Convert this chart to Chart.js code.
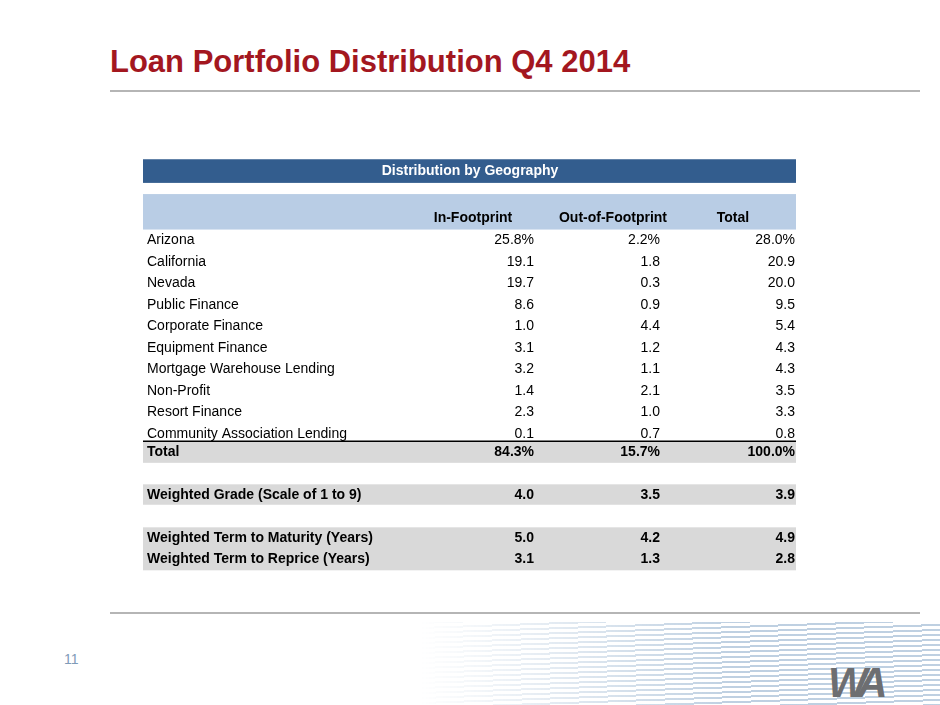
<!DOCTYPE html>
<html><head><meta charset="utf-8">
<script src="https://cdn.jsdelivr.net/npm/chart.js@4/dist/chart.umd.min.js"></script>
<style>
body{margin:0;width:940px;height:705px;position:relative;overflow:hidden;background:#fff;font-family:"Liberation Sans",Arial,sans-serif}
#title{position:absolute;left:110px;top:44px;font-size:31px;font-weight:bold;color:#a3171f}
.rule{position:absolute;left:110px;width:810px;height:2px;background:#b5b5b5}
#pg{position:absolute;left:64px;top:651px;font-size:14px;color:#7f9bb8}
#swoosh{position:absolute;left:420px;top:622px;width:520px;height:83px;
 background:repeating-linear-gradient(178deg,rgba(70,120,170,0.35) 0 2px,rgba(255,255,255,0) 2px 5px);
 -webkit-mask-image:linear-gradient(90deg,transparent 0%,#000 60%);mask-image:linear-gradient(90deg,transparent 0%,#000 60%)}
#logo{position:absolute;left:828px;top:662px;font-size:42px;font-weight:bold;font-style:italic;color:#6d6e71;letter-spacing:-8px;line-height:1}
#wrap{position:absolute;left:140px;top:150px;width:660px;height:430px}
</style></head><body>
<div id="title">Loan Portfolio Distribution Q4 2014</div>
<div class="rule" style="top:90px"></div>
<div class="rule" style="top:612px"></div>
<div id="swoosh"></div>
<div id="logo">WA</div>
<div id="pg">11</div>
<div id="wrap"><canvas id="tbl"></canvas></div>
<script>
const tableTitle = 'Distribution by Geography';
const columns = ['In-Footprint', 'Out-of-Footprint', 'Total'];
const categories = ['Arizona','California','Nevada','Public Finance','Corporate Finance','Equipment Finance','Mortgage Warehouse Lending','Non-Profit','Resort Finance','Community Association Lending'];
const inFootprint = ['25.8%','19.1','19.7','8.6','1.0','3.1','3.2','1.4','2.3','0.1'];
const outFootprint = ['2.2%','1.8','0.3','0.9','4.4','1.2','1.1','2.1','1.0','0.7'];
const totals = ['28.0%','20.9','20.0','9.5','5.4','4.3','4.3','3.5','3.3','0.8'];
const summaryLabels = ['Total','Weighted Grade (Scale of 1 to 9)','Weighted Term to Maturity (Years)','Weighted Term to Reprice (Years)'];
const summaryIn = ['84.3%','4.0','5.0','3.1'];
const summaryOut = ['15.7%','3.5','4.2','1.3'];
const summaryTotal = ['100.0%','3.9','4.9','2.8'];

// row slots on y scale
const catSlots = categories.map((c, i) => 4 + i);
const summarySlots = [14, 16, 18, 19];

const tablePlugin = {
  id: 'table',
  afterDraw(chart) {
    const { ctx, scales: { x, y } } = chart;
    const L = x.getPixelForValue(3), R = x.getPixelForValue(656);
    const band = (a, b, col) => { ctx.fillStyle = col; ctx.fillRect(L, y.getPixelForValue(a), R - L, y.getPixelForValue(b) - y.getPixelForValue(a)); };
    const txt = (s, v, yy, align, bold, col) => {
      ctx.font = (bold ? 'bold ' : '') + '14px "Liberation Sans", Arial, sans-serif';
      ctx.fillStyle = col || '#000'; ctx.textAlign = align; ctx.textBaseline = 'middle';
      ctx.fillText(s, x.getPixelForValue(v), y.getPixelForValue(yy));
    };
    ctx.save();
    band(0.43, 1.53, '#335d8e');
    txt(tableTitle, 330, 1, 'center', true, '#fff');
    band(2.05, 3.7, '#b9cde5');
    const hx = [333, 473, 593];
    columns.forEach((c, i) => txt(c, hx[i], 3.15, 'center', true));
    const vx = [394, 520, 655];
    categories.forEach((c, i) => {
      const s = catSlots[i] + 0.2;
      txt(c, 7, s, 'left');
      txt(inFootprint[i], vx[0], s, 'right');
      txt(outFootprint[i], vx[1], s, 'right');
      txt(totals[i], vx[2], s, 'right');
    });
    band(13.55, 14.55, '#d9d9d9');
    band(15.55, 16.5, '#d9d9d9');
    band(17.55, 19.55, '#d9d9d9');
    ctx.strokeStyle = '#000'; ctx.lineWidth = 1.5;
    ctx.beginPath(); ctx.moveTo(L, y.getPixelForValue(13.55)); ctx.lineTo(R, y.getPixelForValue(13.55)); ctx.stroke();
    summaryLabels.forEach((c, i) => {
      const s = summarySlots[i] + 0.05;
      txt(c, 7, s, 'left', true);
      txt(summaryIn[i], vx[0], s, 'right', true);
      txt(summaryOut[i], vx[1], s, 'right', true);
      txt(summaryTotal[i], vx[2], s, 'right', true);
    });
    ctx.restore();
  }
};

new Chart(document.getElementById('tbl'), {
  type: 'scatter',
  data: { datasets: [] },
  options: {
    responsive: true, maintainAspectRatio: false, animation: false,
    layout: { padding: 0 },
    plugins: { legend: { display: false }, tooltip: { enabled: false } },
    scales: {
      x: { type: 'linear', min: 0, max: 660, display: false },
      y: { type: 'linear', min: 0, max: 20, reverse: true, display: false }
    }
  },
  plugins: [tablePlugin]
});
</script>
</body></html>
